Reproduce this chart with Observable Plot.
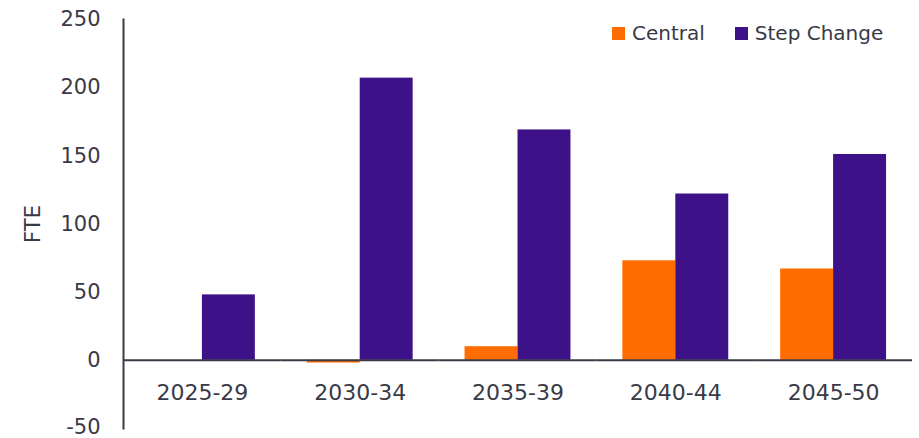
<!DOCTYPE html>
<html>
<head>
<meta charset="utf-8">
<script src="https://cdn.jsdelivr.net/npm/d3@7"></script>
<script src="https://cdn.jsdelivr.net/npm/@observablehq/plot@0.6"></script>
<style>
  body { margin: 0; background: #fff; }
  #wrap { position: relative; width: 919px; height: 438px; font-family: "DejaVu Sans", sans-serif; color: #3a3a46; }
  #legend { position: absolute; top: 20px; left: 612px; display: flex; align-items: center; font-size: 20px; white-space: nowrap; line-height: 26px; }
  .sw { display: inline-block; width: 13px; height: 13px; margin-right: 7px; }
  .item { display: flex; align-items: center; margin-right: 30px; }
</style>
</head>
<body>
<div id="wrap"></div>
<script>
const categories = ["2025-29", "2030-34", "2035-39", "2040-44", "2045-50"];
const seriesNames = ["Central", "Step Change"];
const central = [0, -2, 10, 73, 67];
const stepChange = [48, 207, 169, 122, 151];
const yTicks = [-50, 0, 50, 100, 150, 200, 250];
const colors = ["#FF6D00", "#3D1289"];

const data = [];
categories.forEach((c, i) => {
  data.push({category: c, series: seriesNames[0], value: central[i]});
  data.push({category: c, series: seriesNames[1], value: stepChange[i]});
});

const textColor = "#3a3a46";
const chart = Plot.plot({
  width: 919,
  height: 438,
  marginLeft: 123,
  marginRight: 7,
  marginTop: 19,
  marginBottom: 10,
  style: {fontFamily: "DejaVu Sans, sans-serif", fontSize: "22px", color: textColor, background: "#fff", overflow: "visible"},
  fx: {domain: categories, padding: 0, round: false, axis: null},
  x: {domain: seriesNames, paddingInner: 0, paddingOuter: 0.49, round: false, axis: null},
  y: {domain: [-50, 250], ticks: yTicks},
  color: {domain: seriesNames, range: colors},
  marks: [
    Plot.barY(data, {fx: "category", x: "series", y: "value", fill: "series"}),
    Plot.ruleY([0], {stroke: "#3a3a46", strokeWidth: 2}),
    Plot.text(categories, {fx: d => d, text: d => d, frameAnchor: "bottom", dy: -36, lineAnchor: "middle", fill: textColor, fontSize: 22}),
    Plot.axisY({ticks: yTicks.slice(1), tickFormat: d => String(d), tickSize: 0, tickPadding: 23, fontSize: 21, fill: textColor,
      label: "FTE", labelAnchor: "center", labelArrow: "none", labelOffset: 98}),
    Plot.axisY({ticks: yTicks.slice(0, 1), tickFormat: d => String(d), tickSize: 0, tickPadding: 23, fontSize: 21, fill: textColor,
      lineAnchor: "bottom", dy: 5, label: null}),
    Plot.frame({anchor: "left", facetAnchor: "left", stroke: "#3a3a46", strokeWidth: 2})
  ]
});

const wrap = document.getElementById("wrap");
wrap.appendChild(chart);
const legend = document.createElement("div");
legend.id = "legend";
seriesNames.forEach((s, i) => {
  const item = document.createElement("div");
  item.className = "item";
  const sw = document.createElement("span");
  sw.className = "sw";
  sw.style.background = colors[i];
  item.appendChild(sw);
  item.appendChild(document.createTextNode(s));
  legend.appendChild(item);
});
wrap.appendChild(legend);
</script>
</body>
</html>
